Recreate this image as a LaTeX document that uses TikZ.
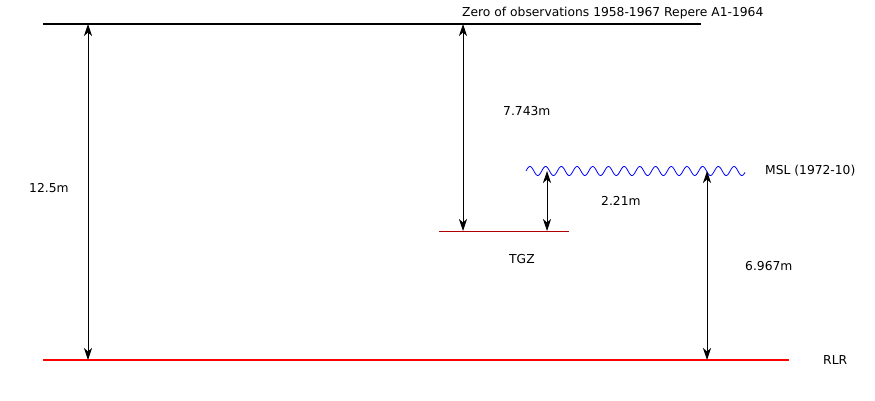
\documentclass[tikz,border=0pt]{standalone}
\usepackage{fontspec}
\setmainfont{DejaVu Sans}
\usetikzlibrary{arrows.meta}
\begin{document}
\begin{tikzpicture}[x=1pt,y=-1pt,
  lbl/.style={inner sep=0pt, font=\fontsize{12.3}{14}\selectfont},
  dim/.style={line width=0.8pt, {Stealth[length=12pt,width=8pt,inset=3.5pt]}-{Stealth[length=12pt,width=8pt,inset=3.5pt]}},
  levelline/.style={line width=1.8pt}]
\useasboundingbox (0,0) rectangle (875,400);
% levels
\coordinate (zl) at (43,24);  \coordinate (zr) at (701,24);
\coordinate (rl) at (43,360); \coordinate (rr) at (789,360);
\coordinate (tl) at (439,231); \coordinate (tr) at (569,231);
\draw[levelline, black] (zl) -- (zr);
\draw[levelline, red] (rl) -- (rr);
\draw[line width=0.8pt, red!70!black] (tl) -- (tr);
% MSL wave
\draw[blue, line width=0.8pt] plot[domain=526:745, samples=400, smooth] (\x, {171 - 4.5*sin((\x-526)/15.7*360)});
% dimension end points
\coordinate (a1t) at (88,24);  \coordinate (a1b) at (88,360);
\coordinate (a2t) at (463,24); \coordinate (a2b) at (463,231);
\coordinate (a3t) at (547,171); \coordinate (a3b) at (547,231);
\coordinate (a4t) at (707,171); \coordinate (a4b) at (707,360);
\draw[dim] (a1t) -- (a1b);
\draw[dim] (a2t) -- (a2b);
\draw[dim] (a3t) -- (a3b);
\draw[dim] (a4t) -- (a4b);
% labels
\node[lbl, anchor=west] (zero) at (462,13) {Zero of observations 1958-1967 Repere A1-1964};
\node[lbl, anchor=west] (l125) at (29,188) {12.5m};
\node[lbl, anchor=west] (l7743) at (503,111) {7.743m};
\node[lbl, anchor=west] (l221) at (601,201) {2.21m};
\node[lbl, anchor=west] (l6967) at (745,266) {6.967m};
\node[lbl, anchor=west] (msl) at (765,171) {MSL (1972-10)};
\node[lbl, anchor=west] (tgz) at (509,259) {TGZ};
\node[lbl, anchor=west] (rlr) at (823,360) {RLR};
\end{tikzpicture}
\end{document}
